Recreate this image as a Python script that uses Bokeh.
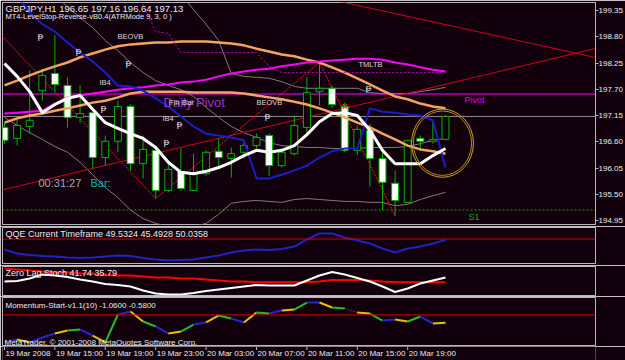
import math
from bokeh.plotting import figure
from bokeh.layouts import column
from bokeh.models import (Range1d, LinearAxis, FixedTicker, Label, Span,
                          PrintfTickFormatter)
from bokeh.core.properties import value
from bokeh.embed import file_html
from bokeh.resources import INLINE

nan = float("nan")

# ------------------------------------------------------------------ data
symbol = "GBPJPY,H1"
indicator_name = "MT4-LevelStop-Reverse-vB0.4(ATRMode 9, 3, 0 )"

bar_open = [196.90, 196.67, 196.92, 197.67, 198.03, 197.78, 197.11, 197.21, 196.27, 196.61,
            197.34, 196.14, 196.42, 195.58, 195.98, 195.58, 195.93, 196.40, 196.25, 196.38,
            196.52, 196.73, 196.10, 196.35, 196.90, 197.65, 197.72, 197.34, 196.42, 196.84,
            196.25, 195.73, 195.33, 196.67, 196.61, 196.65]
bar_high = [197.00, 197.09, 198.09, 198.13, 198.83, 197.95, 197.78, 197.23, 196.73, 197.46,
            197.38, 196.73, 196.48, 196.21, 196.46, 196.35, 196.42, 196.67, 196.48, 196.58,
            196.77, 196.77, 196.42, 197.15, 197.95, 198.26, 197.78, 197.42, 196.94, 196.98,
            196.46, 196.00, 196.63, 196.73, 197.00, 197.16]
bar_low = [196.56, 196.52, 196.77, 197.46, 197.63, 196.90, 197.00, 196.04, 196.10, 196.38,
           196.00, 195.83, 195.41, 195.54, 195.58, 195.58, 195.89, 196.06, 195.85, 196.25,
           196.46, 195.89, 196.06, 196.31, 196.79, 197.36, 197.30, 196.38, 196.31, 195.66,
           195.17, 195.05, 195.31, 196.42, 196.56, 196.64]
bar_close = [196.63, 196.94, 197.05, 197.99, 197.80, 197.11, 197.19, 196.27, 196.61, 197.34,
             196.14, 196.44, 195.58, 196.02, 195.62, 195.93, 196.38, 196.27, 196.35, 196.52,
             196.69, 196.10, 196.38, 196.94, 197.63, 197.72, 197.38, 196.42, 196.86, 196.25,
             195.75, 195.37, 196.63, 196.61, 196.65, 197.13]

ma_white = [198.24, 197.97, 197.65, 197.21, 197.38, 197.51, 197.57, 197.28, 197.00, 196.88,
            196.77, 196.67, 196.48, 196.17, 195.96, 195.93, 195.98, 196.06, 196.17, 196.31,
            196.42, 196.38, 196.42, 196.52, 196.75, 197.02, 197.19, 197.21, 197.15, 196.84,
            196.42, 196.14, 196.14, 196.14, 196.31, 196.46]
stop_blue = [200.00, 199.64, 199.31, 199.06, 198.91, 198.68, 198.47, 198.28, 198.05, 197.78,
             197.76, 197.67, 197.51, 197.34, 197.13, 196.92, 196.77, 196.73, 196.69, 196.63,
             195.83, 195.83, 195.91, 196.00, 196.10, 196.27, 196.40, 196.46, 196.46, 197.30,
             197.23, 197.21, 197.17, 197.15, 197.05, 196.06]
band_upper = [197.78, 197.88, 197.99, 198.09, 198.18, 198.26, 198.37, 198.45, 198.53, 198.60,
              198.64, 198.66, 198.68, 198.68, 198.70, 198.70, 198.70, 198.68, 198.66, 198.62,
              198.55, 198.49, 198.43, 198.39, 198.32, 198.26, 198.16, 198.05, 197.93, 197.80,
              197.67, 197.55, 197.49, 197.40, 197.34, 197.30]
band_mid = [197.00, 197.09, 197.15, 197.19, 197.25, 197.30, 197.36, 197.42, 197.46, 197.53,
            197.61, 197.65, 197.65, 197.65, 197.65, 197.63, 197.63, 197.63, 197.63, 197.61,
            197.57, 197.53, 197.49, 197.44, 197.38, 197.30, 197.21, 197.11, 197.00, 196.90,
            196.77, 196.65, 196.52, 196.44, 196.40, 196.35]
ma_magenta = [197.19, 197.21, 197.23, 197.25, 197.40, 197.53, 197.57, 197.61, 197.65, 197.69,
              197.72, 197.74, 197.78, 197.80, 197.84, 197.86, 197.90, 197.97, 198.03, 198.07,
              198.11, 198.13, 198.18, 198.22, 198.26, 198.28, 198.30, 198.32, 198.34, 198.34,
              198.32, 198.26, 198.22, 198.16, 198.11, 198.07]
stop_dotted = [nan] * 11 + [199.48, 198.91, 198.87, 198.47, 198.47, 198.47, 198.47, 198.47,
                            198.47, 198.47, 198.18, 198.05, 198.05, 198.05, 198.05, 198.05,
                            198.05, 198.05, 198.05, 198.05, 198.05, 198.05, 198.05, 198.05,
                            198.05]
bb_upper = [nan] * 12 + [200.25, 199.96, 199.69, 199.37, 199.06, 198.72, 198.03, 197.97,
                         197.95, 197.93, 197.86, 197.76, 197.72, 197.72, 197.72, 197.72,
                         197.72, 197.63, 197.61, 197.61, 197.61, 197.65, 197.69, 197.74]
bb_mid = [200.59, 200.36, 200.13, 199.89, 199.66, 199.43, 199.20, 198.99, 198.72, 198.51,
          198.26, 198.05, 197.88, 197.78, 197.69, 197.55, 197.32, 197.11, 196.92, 196.79,
          196.69, 196.58, 196.52, 196.50, 196.48, 196.48, 196.46, 196.46, 196.46, 196.48,
          196.48, 196.48, 196.50, 196.56, 196.63, 196.67]
bb_lower = [197.11, 196.94, 196.79, 196.65, 196.50, 196.38, 196.17, 195.91, 195.64, 195.43,
            195.17, 194.99, 194.89, 194.82, 194.80, 194.82, 194.89, 195.08, 195.31, 195.35,
            195.37, 195.35, 195.33, 195.39, 195.41, 195.39, 195.37, 195.35, 195.35, 195.33,
            195.33, 195.26, 195.29, 195.39, 195.47, 195.54]

zigzag_bar = [-1, 12, 25, 31]
zigzag_price = [199.04, 195.41, 198.26, 195.05]
trend_down_bar = [24, 47]
trend_down_price = [199.69, 198.36]
trend_up_bar = [-0.5, 47]
trend_up_price = [195.57, 198.56]

pivot_level = 197.60
s1_level = 195.17

price_ticks = [199.35, 198.80, 198.25, 197.70, 197.15, 196.60, 196.05, 195.50, 194.95]

qqe_title = "QQE Current Timeframe"
qqe_readout = [49.5324, 45.4928, 50.0358]
qqe = [45.17, 43.33, 42.63, 42.17, 41.94, 41.48, 41.20, 41.48, 41.94, 42.40,
       42.17, 41.25, 40.55, 40.09, 40.32, 40.55, 41.48, 42.40, 43.79, 44.71,
       45.17, 44.94, 45.41, 46.56, 49.80, 52.57, 52.57, 50.72, 49.33, 47.95,
       45.64, 43.79, 45.64, 46.56, 47.95, 49.53]
qqe_level = 50
qqe_scale = [55.3431, 38.7041]

zls_title = "Zero Lag Stoch"
zls_readout = [41.74, 35.79]
zls_main = [36.71, 37.35, 40.54, 45.66, 44.38, 42.46, 39.27, 36.71, 33.52, 32.24,
            30.32, 25.21, 21.37, 20.10, 20.10, 22.01, 24.44, 26.49, 28.40, 30.32,
            32.24, 31.60, 31.60, 31.60, 37.99, 44.38, 48.85, 45.66, 41.18, 36.71,
            30.32, 23.29, 27.76, 34.15, 37.99, 41.74]
zls_signal = [53.32, 52.05, 50.77, 49.49, 48.21, 48.21, 46.93, 46.93, 45.66, 44.38,
              44.38, 43.10, 41.82, 41.82, 40.54, 40.54, 39.27, 37.99, 36.71, 36.71,
              35.79, 35.79, 35.79, 35.79, 35.79, 36.71, 38.63, 38.63, 38.63, 37.99,
              36.71, 35.79, 35.79, 35.79, 35.79, 35.79]
zls_scale = [55.88, 18.82]

mom_title = "Momentum-Start-v1.1(10)"
mom_readout = [-1.0600, -0.5800]
mom = [-3.66, -3.27, -3.66, -3.00, -2.47, -2.07, -1.94, -2.74, -3.66, 0.05,
       0.45, -0.88, -1.54, -2.47, -2.21, -1.28, -1.01, -0.08, -0.48, -1.01,
       0.32, 0.18, 0.58, 0.71, 1.64, 1.64, 0.98, 0.85, 0.32, 0.18,
       -0.75, -0.61, -0.88, -0.22, -1.14, -1.06]
# colour state of the segment ending at each bar (B blue, Y yellow, G green, N neutral)
mom_state = ["-", "B", "Y", "B", "B", "Y", "G", "B", "Y", "G", "B", "Y", "G", "B", "Y", "G",
             "B", "Y", "G", "B", "Y", "G", "B", "Y", "G", "B", "Y", "G", "N", "Y", "G",
             "B", "Y", "G", "B", "Y"]
mom_level = 0
mom_scale = [2.3055, -4.1955]

date_ticks = [0, 4, 8, 12, 16, 20, 24, 28, 32]
date_labels = ["19 Mar 2008", "19 Mar 15:00", "19 Mar 19:00", "19 Mar 23:00",
               "20 Mar 03:00", "20 Mar 07:00", "20 Mar 11:00", "20 Mar 15:00",
               "20 Mar 19:00"]
copyright_text = "MetaTrader, \u00a9 2001-2008 MetaQuotes Software Corp."

# ------------------------------------------------------------------ style
BG = "#12000c"
FRAME = "#b8b8b8"
TXT = "#ececec"
FONT = "Liberation Sans"
GREEN = "#00b400"
X0, X1 = -0.1587, 46.905
FRAME_L, FRAME_R = 2, 595
n = len(bar_open)
bars = list(range(n))


def fx(px):
    return X0 + (px - FRAME_L) / (FRAME_R - FRAME_L) * (X1 - X0)


def make_fy(top_px, h_px, y0, y1):
    def fy(py):
        return y1 - (py - top_px) / h_px * (y1 - y0)
    return fy


def panel(height, y0, y1, top, bottom, outline=True):
    f = figure(width=625, height=height, x_range=Range1d(X0, X1), y_range=Range1d(y0, y1),
               toolbar_location=None, output_backend="svg", title=None,
               x_axis_location=None, y_axis_location=None,
               min_border_left=FRAME_L, min_border_right=625 - FRAME_R,
               min_border_top=top, min_border_bottom=bottom,
               background_fill_color=BG, border_fill_color=BG,
               outline_line_color=FRAME if outline else None)
    f.grid.visible = False
    return f


def add_text(fig, x, y, txt, color=TXT, size=8, align="left", bg=None, font=FONT,
             baseline="middle", pad=1):
    lab = Label(x=x, y=y, text=txt, text_color=color, text_font=font,
                text_font_size=f"{size}px", text_align=align, text_baseline=baseline)
    if bg is not None:
        lab.background_fill_color = bg
        lab.padding = pad
    fig.add_layout(lab)


# ------------------------------------------------------------------ main price panel
Y0, Y1 = 194.8664, 199.5176
p = panel(226, Y0, Y1, 2, 2)
fy = make_fy(2, 222, Y0, Y1)

p.add_layout(Span(location=pivot_level, dimension="width", line_color="#ff00ff",
                  line_width=1, level="underlay"))
p.add_layout(Span(location=bar_close[-1], dimension="width", line_color="#8c8c8c",
                  line_width=1, level="underlay"))
p.add_layout(Span(location=s1_level, dimension="width", line_color="#00a800",
                  line_width=1, line_dash="2 2", level="underlay"))

for band in (bb_upper, bb_mid, bb_lower):
    p.line(bars, band, line_color="#7c7c7c", line_width=1)

p.line(trend_down_bar, trend_down_price, line_color="#d0001c", line_width=1)
p.line(trend_up_bar, trend_up_price, line_color="#d0001c", line_width=1)
p.line(zigzag_bar, zigzag_price, line_color="#ff1010", line_width=1, line_dash="2 1")

# candles
wick_src = dict(x=bars, lo=bar_low, hi=bar_high)
p.segment(x0="x", y0="lo", x1="x", y1="hi", source=wick_src, line_color=GREEN, line_width=1)
body_top = [max(o, c) for o, c in zip(bar_open, bar_close)]
body_bot = [min(o, c) for o, c in zip(bar_open, bar_close)]
body_fill = ["#ffffff" if c < o else BG for o, c in zip(bar_open, bar_close)]
p.vbar(x=bars, width=0.55, top=body_top, bottom=body_bot, fill_color=body_fill,
       line_color=GREEN, line_width=1)

p.line(bars, band_upper, line_color="#f4a460", line_width=2.5)
p.line(bars, band_mid, line_color="#f4a460", line_width=2.5)
p.line(bars, ma_magenta, line_color="#ff00ff", line_width=2)
p.line(bars, stop_dotted, line_color="#c000c0", line_width=1, line_dash="2 2")
p.line(bars, stop_blue, line_color="#1c1cc8", line_width=2)
p.line(bars, ma_white, line_color="#ffffff", line_width=3)
p.scatter([27], [197.34], marker="x", size=6, line_color="#ff2020", line_width=1.5)

# circle object around the last bars
p.ellipse(x=[34.76], y=[196.57], width=[4.92], height=[1.43], fill_color=None,
          line_color="#d4a420", line_width=1)
p.ellipse(x=[34.76], y=[196.57], width=[4.62], height=[1.35], fill_color=None,
          line_color="#b89010", line_width=1)

# right price scale
ax = LinearAxis(ticker=FixedTicker(ticks=price_ticks, minor_ticks=[]),
                formatter=PrintfTickFormatter(format="%.2f"))
ax.axis_line_color = FRAME
ax.major_tick_line_color = FRAME
ax.major_tick_in = 0
ax.major_tick_out = 3
ax.minor_tick_line_color = None
ax.major_label_standoff = 0
ax.major_label_text_font = FONT
ax.major_label_text_font_size = "8px"
ax.major_label_text_color = TXT
p.add_layout(ax, "right")

# price markers on the scale
add_text(p, fx(597), pivot_level, f"{pivot_level:.2f}", "#200020", 8, bg="#ff00ff")
add_text(p, fx(597), bar_close[-1], f"{bar_close[-1]:.2f}", "#000000", 8, bg="#e8e8e8")
add_text(p, fx(597), s1_level, f"{s1_level:.2f}", "#003000", 8, bg="#20e020")

# chart texts
header = f"{symbol}  {bar_open[-1]:.2f} {bar_high[-1]:.2f} {bar_low[-1]:.2f} {bar_close[-1]:.2f}"
add_text(p, fx(5), fy(7.5), header, TXT, 9.5)
add_text(p, fx(5), fy(16), indicator_name, TXT, 7.5)
for (tx, ty, t) in [(117, 36, "BEOVB"), (256, 102, "BEOVB"), (99, 82, "IB4"),
                    (162, 118, "IB4"), (358, 64, "TMLTB")]:
    add_text(p, fx(tx), fy(ty), t, "#d8d8d8", 7.5)
for (tx, ty) in [(40, 35), (78, 50), (128, 62), (103, 107), (166, 141), (179, 123),
                 (267, 115), (368, 87)]:
    add_text(p, fx(tx), fy(ty), "\u1d7d", "#e0e0e0", 9, align="center", font="DejaVu Sans")
add_text(p, fx(163), fy(102), "Daily Pivot", "#a030c8", 13)
add_text(p, fx(168), fy(102), "Fin Bar", "#d8d8d8", 8)
add_text(p, fx(464), fy(99.5), "Pivot", "#e000e0", 9)
add_text(p, fx(468), fy(216), "S1", "#00b000", 9)
add_text(p, fx(38), fy(182), "00:31:27", "#a8a8a8", 11)
add_text(p, fx(90), fy(182), "Bar:", "#10b0b8", 11)

# ------------------------------------------------------------------ QQE panel
q = panel(39, qqe_scale[1], qqe_scale[0], 1, 2)
fq = make_fy(227, 36, qqe_scale[1], qqe_scale[0])
q.add_layout(Span(location=qqe_level, dimension="width", line_color="#d00000", line_width=1))
q.line(bars, qqe, line_color="#2222c0", line_width=2)
add_text(q, fx(5), fq(233.5), qqe_title + " " + " ".join(f"{v:.4f}" for v in qqe_readout), TXT, 9)
add_text(q, fx(597), fq(231.5), f"{qqe_scale[0]:.4f}", TXT, 7.5)
add_text(q, fx(597), fq(257.5), f"{qqe_scale[1]:.4f}", TXT, 7.5)
add_text(q, fx(598), qqe_level, f"{qqe_level}", "#ffffff", 8, bg="#e00000", pad=0)

# ------------------------------------------------------------------ Zero lag stoch panel
z = panel(31, zls_scale[1], zls_scale[0], 1, 1)
fz = make_fy(266, 29, zls_scale[1], zls_scale[0])
z.line(bars, zls_signal, line_color="#ff0000", line_width=2)
z.line(bars, zls_main, line_color="#ffffff", line_width=2)
add_text(z, fx(5), fz(272.5), zls_title + " " + " ".join(f"{v:.2f}" for v in zls_readout), TXT, 9)
add_text(z, fx(598), fz(270.5), f"{zls_scale[0]:.2f}", TXT, 8)
add_text(z, fx(598), fz(290), f"{zls_scale[1]:.2f}", TXT, 8)

# ------------------------------------------------------------------ Momentum panel
m = panel(50, mom_scale[1], mom_scale[0], 1, 0)
fm = make_fy(297, 49, mom_scale[1], mom_scale[0])
m.add_layout(Span(location=mom_level, dimension="width", line_color="#d00000", line_width=1))
state_color = {"B": "#2626d0", "Y": "#e8c000", "G": "#20c020", "N": "#808080"}
seg_idx = [i for i in range(1, n) if mom_state[i] != "N"]
m.segment(x0=[i - 1 for i in seg_idx], y0=[mom[i - 1] for i in seg_idx],
          x1=seg_idx, y1=[mom[i] for i in seg_idx],
          line_color=[state_color[mom_state[i]] for i in seg_idx], line_width=2)
neu_idx = [i for i in range(1, n) if mom_state[i] == "N"]
m.segment(x0=[i - 1 for i in neu_idx], y0=[mom[i - 1] for i in neu_idx],
          x1=neu_idx, y1=[mom[i] for i in neu_idx],
          line_color="#909090", line_width=1, line_dash="1 2")
add_text(m, fx(5), fm(305), mom_title + " " + " ".join(f"{v:.4f}" for v in mom_readout), TXT, 8)
add_text(m, fx(4), fm(341.5), copyright_text, TXT, 8)
add_text(m, fx(597), fm(302.5), f"{mom_scale[0]:.4f}", TXT, 7.5)
add_text(m, fx(597), fm(340.5), f"{mom_scale[1]:.4f}", TXT, 7.5)
add_text(m, fx(598), mom_level, f"{mom_level:.2f}", "#ffffff", 8, bg="#e00000", pad=0)

# ------------------------------------------------------------------ time scale strip
s = panel(14, 0, 1, 0, 0, outline=False)
s.segment(x0=date_ticks, y0=[1] * len(date_ticks), x1=date_ticks, y1=[0.75] * len(date_ticks),
          line_color=FRAME, line_width=1)
s.text(x=date_ticks, y=[0.5] * len(date_ticks), text=date_labels, x_offset=1,
       text_font=value(FONT), text_font_size="8px", text_color=TXT,
       text_align="left", text_baseline="middle")

layout = column(p, q, z, m, s, spacing=0)
open("out.html", "w").write(file_html(layout, INLINE))
